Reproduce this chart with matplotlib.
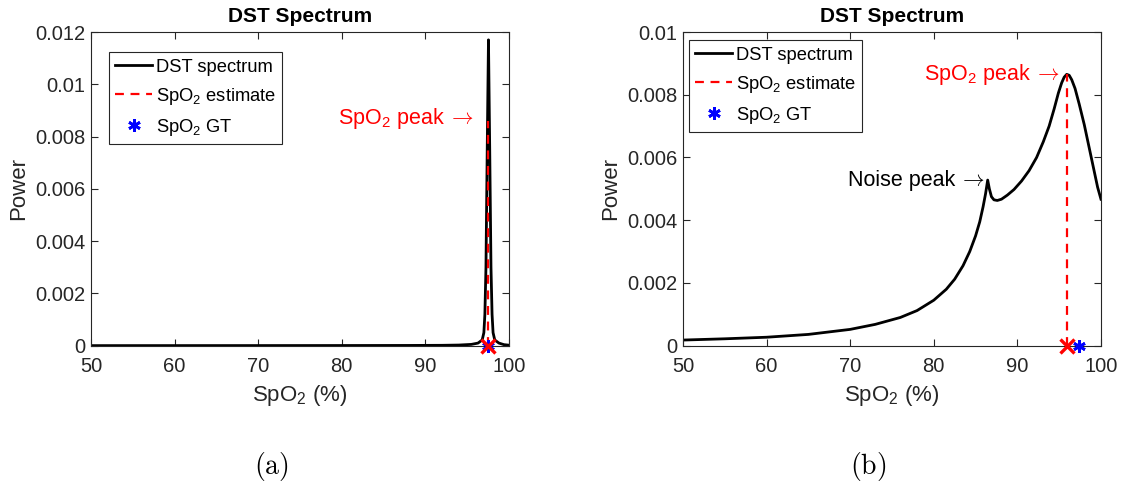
import matplotlib
matplotlib.use("Agg")
import matplotlib.pyplot as plt

plt.rcParams["font.family"] = ["Liberation Sans", "DejaVu Sans"]
plt.rcParams["mathtext.fontset"] = "custom"
plt.rcParams["mathtext.rm"] = "Liberation Sans"
plt.rcParams["mathtext.it"] = "Liberation Sans:italic"
plt.rcParams["mathtext.bf"] = "Liberation Sans:bold"

# (a) clean spectrum: single sharp peak
spo2_a = [50, 60, 70, 80, 88, 92, 94, 95.5, 96.3, 96.8, 97.0, 97.12,
          97.25, 97.4, 97.55, 97.7, 97.85, 97.98, 98.1, 98.3, 98.8, 99.4,
          100]
power_a = [0.000003, 0.000004, 0.000005, 0.000007, 0.00001, 0.000015,
           0.000025, 0.00005, 0.0001, 0.00022, 0.0005, 0.0012, 0.003,
           0.0075, 0.0117, 0.0075, 0.003, 0.0012, 0.0005, 0.00022, 0.0001,
           0.00004, 0.00002]
est_a, est_top_a, gt_a = 97.55, 0.0086, 97.5

# (b) noisy spectrum: noise peak plus SpO2 peak
spo2_b = [50, 55, 60, 65, 70, 73, 76, 78, 80, 81.5, 82.5, 83.5, 84.3, 85.0,
          85.5, 85.9, 86.2, 86.45, 86.65, 86.9, 87.2, 87.6, 88.1, 88.8, 89.6,
          90.5, 91.4, 92.3, 93.1, 93.8, 94.4, 94.9, 95.3, 95.6, 95.9, 96.2,
          96.5, 96.9, 97.4, 98.0, 98.6, 99.2, 99.6, 100]
power_b = [0.00018, 0.00022, 0.00027, 0.00036, 0.00052, 0.00068, 0.00090,
           0.00112, 0.00145, 0.00180, 0.00212, 0.00255, 0.00300, 0.00350,
           0.00395, 0.00443, 0.00485, 0.00528, 0.00500, 0.00475, 0.00465,
           0.00463, 0.00467, 0.00480, 0.00498, 0.00525, 0.00558, 0.00600,
           0.00650, 0.00700, 0.00755, 0.00805, 0.00838, 0.00856, 0.00865,
           0.00862, 0.00848, 0.00820, 0.00770, 0.00705, 0.00630, 0.00555,
           0.00505, 0.00467]
est_b, est_top_b, gt_b = 95.9, 0.00865, 97.4

GREY = "#262626"
ASTERISK = (6, 2, 0)


def draw_panel(ax, x, y, est, est_top, gt, ymax, yticks, yticklabels,
               legend_anchor):
    ax.plot(x, y, color="black", lw=2.0, label="DST spectrum")
    ax.plot([est, est], [0, est_top], color="red", lw=1.6,
            ls=(0, (4, 3)), label="SpO$_2$ estimate")
    ax.plot([gt], [0], ls="none", marker=ASTERISK, ms=9, mew=2,
            color="blue", clip_on=False, zorder=5, label="SpO$_2$ GT")
    ax.plot([est], [0], ls="none", marker="x", ms=10, mew=2.4,
            color="red", clip_on=False, zorder=6)

    ax.set_xlim(50, 100)
    ax.set_ylim(0, ymax)
    ax.set_xticks([50, 60, 70, 80, 90, 100])
    ax.set_yticks(yticks)
    ax.set_yticklabels(yticklabels)
    ax.tick_params(direction="in", length=5, width=0.8, top=True,
                   right=True, labelsize=14.5, colors=GREY)
    ax.tick_params(axis="x", pad=8)
    ax.tick_params(axis="y", pad=4)
    for sp in ax.spines.values():
        sp.set_color(GREY)
        sp.set_linewidth(0.8)

    ax.set_title("DST Spectrum", fontsize=15, fontweight="bold", pad=7)
    ax.set_xlabel("SpO$_2$ (%)", fontsize=16, color=GREY, labelpad=5)
    ax.set_ylabel("Power", fontsize=16, color=GREY, labelpad=4)

    leg = ax.legend(loc="upper left", bbox_to_anchor=legend_anchor,
                    borderaxespad=0, fancybox=False, framealpha=1,
                    edgecolor=GREY, fontsize=13.2, handlelength=2.0,
                    handletextpad=0.2, labelspacing=0.55,
                    borderpad=0.35)
    leg.get_frame().set_linewidth(0.8)


def peak_label(ax, x, y, text, color):
    # text followed by a thin Computer Modern arrow pointing at (x, y)
    ax.text(x, y, r"$\rightarrow$", color=color, fontsize=15.5, ha="right",
            va="center", math_fontfamily="cm")
    ax.annotate(text, xy=(x, y), xytext=(-21, 0), textcoords="offset points",
                color=color, fontsize=15.5, ha="right", va="center")


fig = plt.figure(figsize=(11.27, 4.94), dpi=100)
ax_a = fig.add_axes([0.0807, 0.3002, 0.3709, 0.635])
ax_b = fig.add_axes([0.606, 0.3002, 0.3709, 0.635])

draw_panel(ax_a, spo2_a, power_a, est_a, est_top_a, gt_a, 0.012,
           [0, 0.002, 0.004, 0.006, 0.008, 0.01, 0.012],
           ["0", "0.002", "0.004", "0.006", "0.008", "0.01", "0.012"],
           (0.043, 0.936))
draw_panel(ax_b, spo2_b, power_b, est_b, est_top_b, gt_b, 0.01,
           [0, 0.002, 0.004, 0.006, 0.008, 0.01],
           ["0", "0.002", "0.004", "0.006", "0.008", "0.01"],
           (0.014, 0.974))

peak_label(ax_a, 95.8, 0.00868, "SpO$_2$ peak", "red")
peak_label(ax_b, 95.1, 0.00865, "SpO$_2$ peak", "red")
peak_label(ax_b, 86.1, 0.00528, "Noise peak", "black")

fig.text(0.2405, 0.055, r"$(\mathrm{a})$", ha="center", va="center",
         fontsize=20, math_fontfamily="cm")
fig.text(0.770, 0.055, r"$(\mathrm{b})$", ha="center", va="center",
         fontsize=20, math_fontfamily="cm")

fig.savefig("out.png", dpi=100)
